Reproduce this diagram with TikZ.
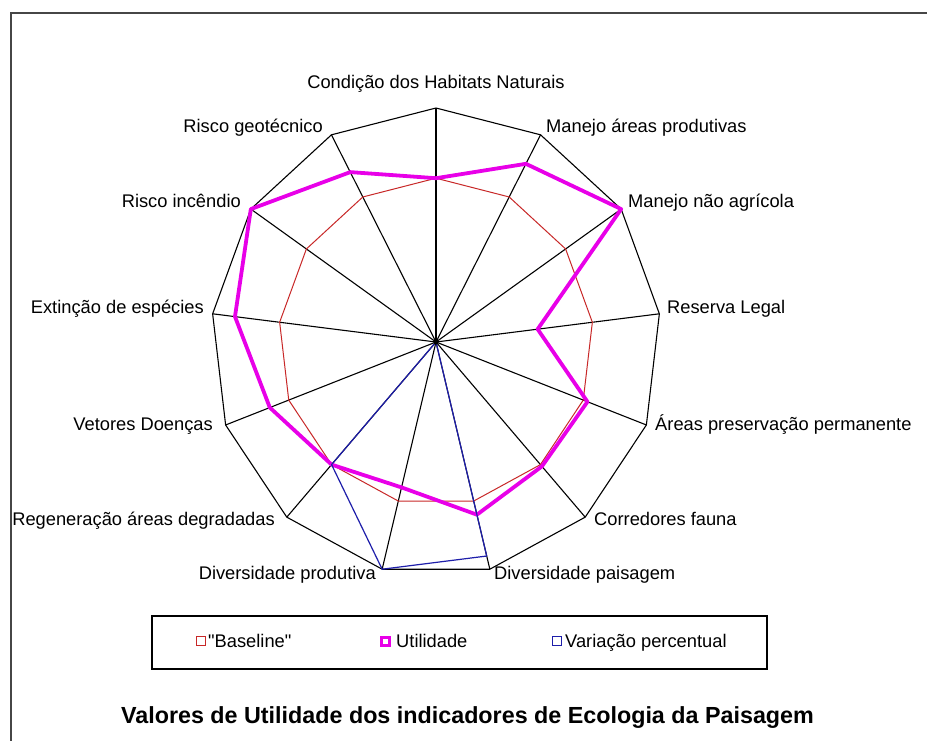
\documentclass[tikz,border=0pt]{standalone}
\usepackage{fontspec}
\setmainfont{Liberation Sans}[Ligatures=TeXOff]
\definecolor{basered}{RGB}{200,40,40}
\definecolor{utilmag}{RGB}{232,0,232}
\definecolor{varblue}{RGB}{30,30,170}
\definecolor{framegray}{RGB}{70,70,70}
\begin{document}
\begin{tikzpicture}[x=1pt,y=-1pt,
  lbl/.style={font=\fontsize{18.3}{21}\selectfont, inner sep=0pt},
  titlefont/.style={font=\bfseries\fontsize{23.3}{26}\selectfont, inner sep=0pt},
  gridline/.style={black, line width=1.1pt},
  baseline series/.style={basered, line width=1pt, line join=round},
  utility series/.style={utilmag, line width=3.8pt, line join=round},
  variation series/.style={varblue, line width=1.2pt, line join=round}]
\useasboundingbox (0,0) rectangle (927,740);
\fill[white] (0,0) rectangle (927,740);
% outer frame (only top and left edges are visible)
\draw[framegray, line width=1.6pt] (11,760) -- (11,13) -- (950,13);
% centre and axis end points
\coordinate (o) at (436,342);
\foreach \k in {0,...,12} {
  \coordinate (v\k) at ({436+225*cos(90-\k*360/13)},{342-234*sin(90-\k*360/13)});
  \coordinate (b\k) at ({436+225*0.7*cos(90-\k*360/13)},{342-234*0.7*sin(90-\k*360/13)});
}
\foreach \k/\r in {0/0.70,1/0.86,2/1.0,3/0.455,4/0.72,5/0.71,6/0.76,7/0.64,8/0.70,9/0.79,10/0.90,11/1.0,12/0.82} {
  \coordinate (u\k) at ({436+225*\r*cos(90-\k*360/13)},{342-234*\r*sin(90-\k*360/13)});
}
\coordinate (w6) at ({436+225*0.942*cos(90-6*360/13)},{342-234*0.942*sin(90-6*360/13)});
% grid
\foreach \k in {0,...,12} { \draw[gridline] (o) -- (v\k); }
\draw[gridline] (v0) -- (v1) -- (v2) -- (v3) -- (v4) -- (v5) -- (v6) -- (v7) -- (v8) -- (v9) -- (v10) -- (v11) -- (v12) -- cycle;
% series
\draw[baseline series] (b0) -- (b1) -- (b2) -- (b3) -- (b4) -- (b5) -- (b6) -- (b7) -- (b8) -- (b9) -- (b10) -- (b11) -- (b12) -- cycle;
\draw[utility series] (u0) -- (u1) -- (u2) -- (u3) -- (u4) -- (u5) -- (u6) -- (u7) -- (u8) -- (u9) -- (u10) -- (u11) -- (u12) -- cycle;
\draw[variation series] (o) -- (w6) -- (v7) -- (b8) -- cycle;
\fill[black] (o) circle (2.6);
% category labels
\node[lbl, anchor=base] (l0) at (436,88) {Condição dos Habitats Naturais};
\node[lbl, anchor=base west] (l1) at (546,132) {Manejo áreas produtivas};
\node[lbl, anchor=base west] (l2) at (628,207) {Manejo não agrícola};
\node[lbl, anchor=base west] (l3) at (667,313) {Reserva Legal};
\node[lbl, anchor=base west] (l4) at (655,430) {Áreas preservação permanente};
\node[lbl, anchor=base west] (l5) at (594,525) {Corredores fauna};
\node[lbl, anchor=base west] (l6) at (494,579) {Diversidade paisagem};
\node[lbl, anchor=base east] (l7) at (376,579) {Diversidade produtiva};
\node[lbl, anchor=base east] (l8) at (275,525) {Regeneração áreas degradadas};
\node[lbl, anchor=base east] (l9) at (213,430) {Vetores Doenças};
\node[lbl, anchor=base east] (l10) at (204,313) {Extinção de espécies};
\node[lbl, anchor=base east] (l11) at (241,207) {Risco incêndio};
\node[lbl, anchor=base east] (l12) at (323,132) {Risco geotécnico};
% legend
\node[draw=black, line width=1.1pt, minimum width=615pt, minimum height=53pt, inner sep=0pt] (legend) at (459.5,642.5) {};
\draw[basered, line width=1.5pt] (196.5,636.5) rectangle (205.5,645.5);
\node[lbl, anchor=base west] (t1) at (208,647) {"Baseline"};
\draw[utilmag, line width=3pt] (381,637.5) rectangle (389,645.5);
\node[lbl, anchor=base west] (t2) at (396,647) {Utilidade};
\draw[varblue, line width=1.5pt] (552.5,636.5) rectangle (561.5,645.5);
\node[lbl, anchor=base west] (t3) at (565,647) {Variação percentual};
% title
\node[titlefont, anchor=base] (title) at (467.5,723) {Valores de Utilidade dos indicadores de Ecologia da Paisagem};
\end{tikzpicture}
\end{document}
